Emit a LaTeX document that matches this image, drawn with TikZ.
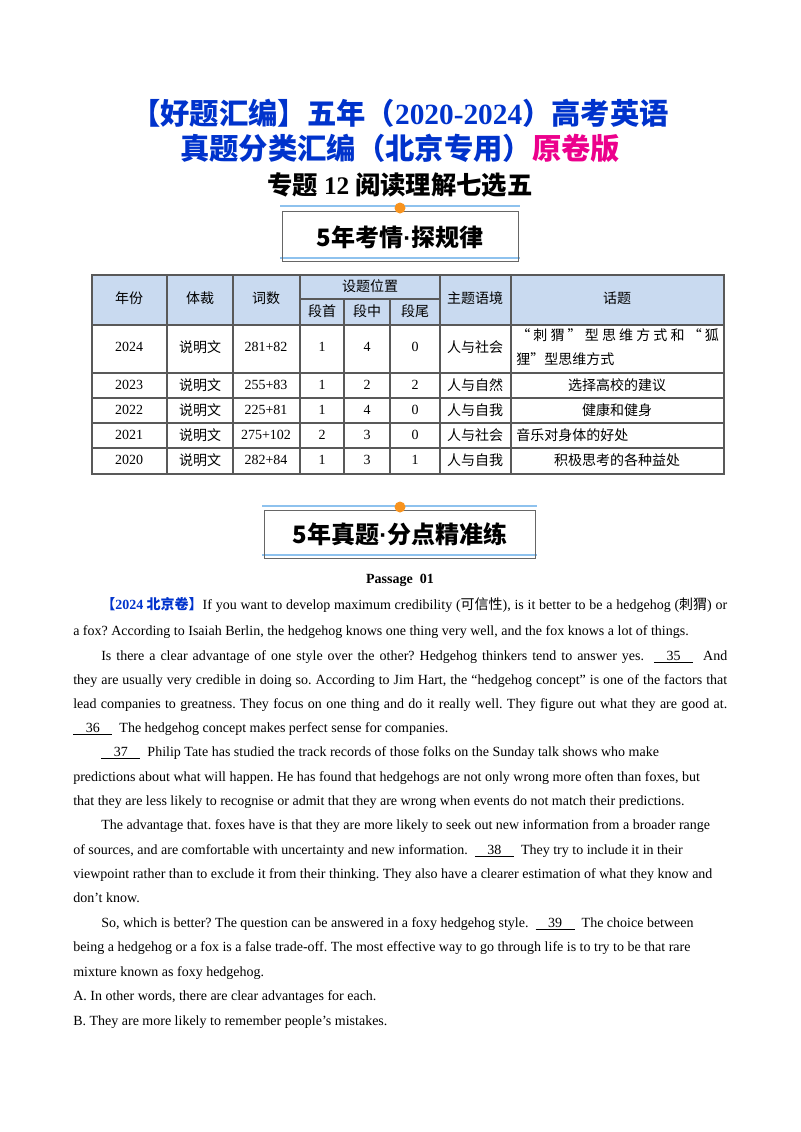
\documentclass[tikz,border=0pt]{standalone}
\usepackage{fontspec}
\setmainfont{Liberation Serif}
\newfontfamily\cjk{Noto Sans CJK SC}
\newfontfamily\dotfont{Liberation Sans}
\newcommand{\zh}[1]{{\cjk #1}}
\newcommand{\blank}[1]{\underline{\hspace{0.9em}#1\hspace{0.9em}}}
\newcommand{\mdot}{{\dotfont\bfseries\char"00B7}}
\usetikzlibrary{positioning}
\definecolor{titleblue}{HTML}{0033CC}
\definecolor{headblue}{HTML}{C9DAF0}
\definecolor{bannerline}{HTML}{8EC2EE}
\definecolor{dotorange}{HTML}{F7931E}
\tikzset{
  line/.style={anchor=base west, inner sep=0pt, font=\frenchspacing\fontsize{10.5}{13}\selectfont},
  cell/.style={inner sep=0pt, font=\fontsize{10.5}{13}\selectfont},
  zcell/.style={cell, font=\cjk\fontsize{10.5}{13}\selectfont},
  bannertxt/.style={font=\cjk\bfseries\fontsize{18}{20}\selectfont},
}
% justified line: width in pt
\newcommand{\jline}[4]{\node[line] (#1) at #2 {\hbox to #3{#4}};}
\begin{document}
\begin{tikzpicture}[x=0.75pt,y=-0.75pt]
\useasboundingbox (0,0) rectangle (800,1132);
% title
\node[font=\cjk\bfseries\fontsize{22}{24}\selectfont, text=titleblue] (t1) at (400,113) {【好题汇编】五年（{\rmfamily\bfseries 2020-2024}）高考英语};
\node[font=\cjk\bfseries\fontsize{22}{24}\selectfont, text=titleblue] (t2) at (400,148) {真题分类汇编（北京专用）\textcolor{magenta}{原卷版}};
\node[font=\cjk\bfseries\fontsize{19}{22}\selectfont] (t3) at (400,185) {专题 {\rmfamily\bfseries 12} 阅读理解七选五};

% banner 1
\draw[bannerline, thick] (280,206) -- (520,206);
\draw[bannerline, thick] (280,258) -- (520,258);
\draw[gray!80!black] (282,211) rectangle (518,261);
\node[bannertxt] (b1) at (400,237) {5年考情\mdot 探规律};
\fill[dotorange] (400,208) circle (5.5);

% table
\fill[headblue] (92,275) rectangle (724,325);
\draw[gray!70!black, line width=0.8pt] (92,275) rectangle (724,474);
\foreach \y in {325,373,398,423,448} \draw[gray!70!black, line width=0.8pt] (92,\y) -- (724,\y);
\foreach \x in {167,233,300,440,511} \draw[gray!70!black, line width=0.8pt] (\x,275) -- (\x,474);
\draw[gray!70!black, line width=0.8pt] (300,299) -- (440,299);
\foreach \x in {344,390} \draw[gray!70!black, line width=0.8pt] (\x,299) -- (\x,474);
\node[zcell] (h1) at (129,298) {年份};
\node[zcell] (h2) at (200,298) {体裁};
\node[zcell] (h3) at (266,298) {词数};
\node[zcell] (h4) at (370,286) {设题位置};
\node[zcell] (h41) at (322,311) {段首};
\node[zcell] (h42) at (367,311) {段中};
\node[zcell] (h43) at (415,311) {段尾};
\node[zcell] (h5) at (475,298) {主题语境};
\node[zcell] (h6) at (617,298) {话题};
\foreach \yr/\w/\a/\b/\c/\ctx/\y in {2024/281+82/1/4/0/人与社会/347,2023/255+83/1/2/2/人与自然/385,2022/225+81/1/4/0/人与自我/410,2021/275+102/2/3/0/人与社会/435,2020/282+84/1/3/1/人与自我/460}{
  \node[cell] at (129,\y) {\yr};
  \node[cell] at (200,\y) {\zh{说明文}};
  \node[cell] at (266,\y) {\w};
  \node[cell] at (322,\y) {\a};
  \node[cell] at (367,\y) {\b};
  \node[cell] at (415,\y) {\c};
  \node[cell] at (475,\y) {\zh{\ctx}};
}
\node[zcell, anchor=west] (r1a) at (516,335) {\hbox to 152pt{“\hfill 刺\hfill 猬\hfill ”\hfill 型\hfill 思\hfill 维\hfill 方\hfill 式\hfill 和\hfill “\hfill 狐}};
\node[zcell, anchor=west] (r1b) at (516,359) {狸”型思维方式};
\node[zcell] (r2) at (617,385) {选择高校的建议};
\node[zcell] (r3) at (617,410) {健康和健身};
\node[zcell, anchor=west] (r4) at (516,435) {音乐对身体的好处};
\node[zcell] (r5) at (617,460) {积极思考的各种益处};

% banner 2
\draw[bannerline, thick] (262,506) -- (537,506);
\draw[bannerline, thick] (262,555) -- (537,555);
\draw[gray!80!black] (264,510) rectangle (535,558);
\node[bannertxt] (b2) at (400,534) {5年真题\mdot 分点精准练};
\fill[dotorange] (400,507) circle (5.5);

% passage
\node[font=\bfseries\fontsize{10.5}{13}\selectfont] (p) at (400,580) {Passage\ \ 01};
\jline{l1}{(101,609)}{469.5pt}{\textcolor{titleblue}{\cjk\bfseries 【{\rmfamily 2024} 北京卷】}If you want to develop maximum credibility (\zh{可信性}), is it better to be a hedgehog (\zh{刺猬}) or}
\node[line] (l2) at (73,635) {a fox? According to Isaiah Berlin, the hedgehog knows one thing very well, and the fox knows a lot of things.};
\jline{l3}{(101,660)}{469.5pt}{Is there a clear advantage of one style over the other? Hedgehog thinkers tend to answer yes. \ \blank{35}\ \ And}
\jline{l4}{(73,684)}{490.5pt}{they are usually very credible in doing so. According to Jim Hart, the “hedgehog concept” is one of the factors that}
\jline{l5}{(73,708)}{490.5pt}{lead companies to greatness. They focus on one thing and do it really well. They figure out what they are good at.}
\node[line] (l6) at (73,732) {\blank{36}\ \ The hedgehog concept makes perfect sense for companies.};
\node[line] (l7) at (101,756) {\blank{37}\ \ Philip Tate has studied the track records of those folks on the Sunday talk shows who make};
\node[line] (l8) at (73,781) {predictions about what will happen. He has found that hedgehogs are not only wrong more often than foxes, but};
\node[line] (l9) at (73,805) {that they are less likely to recognise or admit that they are wrong when events do not match their predictions.};
\node[line] (l10) at (101,829) {The advantage that. foxes have is that they are more likely to seek out new information from a broader range};
\node[line] (l11) at (73,854) {of sources, and are comfortable with uncertainty and new information. \ \blank{38}\ \ They try to include it in their};
\node[line] (l12) at (73,878) {viewpoint rather than to exclude it from their thinking. They also have a clearer estimation of what they know and};
\node[line] (l13) at (73,902) {don’t know.};
\node[line] (l14) at (101,927) {So, which is better? The question can be answered in a foxy hedgehog style. \ \blank{39}\ \ The choice between};
\node[line] (l15) at (73,951) {being a hedgehog or a fox is a false trade-off. The most effective way to go through life is to try to be that rare};
\node[line] (l16) at (73,976) {mixture known as foxy hedgehog.};
\node[line] (l17) at (73,1000) {A. In other words, there are clear advantages for each.};
\node[line] (l18) at (73,1025) {B. They are more likely to remember people’s mistakes.};
\end{tikzpicture}
\end{document}
